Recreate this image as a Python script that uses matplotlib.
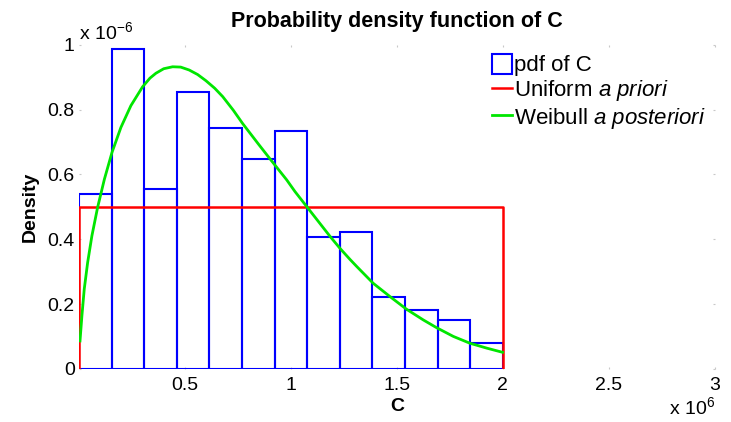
import numpy as np
import matplotlib
matplotlib.use("Agg")
import matplotlib.pyplot as plt
from matplotlib.patches import Patch
from matplotlib.lines import Line2D

# C is in units of 1e6, densities in units of 1e-6
n_bins = 13
c_min, c_max = 0.0, 2.0
pdf_heights = [0.54, 0.988, 0.556, 0.855, 0.744, 0.648, 0.735,
               0.406, 0.423, 0.222, 0.182, 0.150, 0.079]

# uniform prior on [0, 2e6]
uniform_c = [0.0, 0.0, 2.0, 2.0]
uniform_pdf = [0.0, 0.5, 0.5, 0.0]

# fitted Weibull posterior
weibull_c = [0.005, 0.014, 0.025, 0.041, 0.061, 0.088, 0.120, 0.156, 0.198,
             0.245, 0.300, 0.335, 0.363, 0.400, 0.442, 0.480, 0.520, 0.560,
             0.599, 0.640, 0.678, 0.728, 0.772, 0.846, 0.901, 0.980, 1.019,
             1.074, 1.129, 1.184, 1.231, 1.278, 1.310, 1.388, 1.467, 1.545,
             1.624, 1.687, 1.766, 1.844, 1.923, 1.998]
weibull_pdf = [0.086, 0.164, 0.246, 0.328, 0.410, 0.498, 0.585, 0.668, 0.745,
               0.812, 0.870, 0.897, 0.912, 0.926, 0.932, 0.931, 0.922, 0.908,
               0.889, 0.866, 0.840, 0.798, 0.757, 0.694, 0.648, 0.583, 0.547,
               0.501, 0.455, 0.409, 0.372, 0.338, 0.316, 0.264, 0.223, 0.184,
               0.151, 0.127, 0.100, 0.079, 0.064, 0.051]

xticks = [0.5, 1, 1.5, 2, 2.5, 3]
xticklabels = ["0.5", "1", "1.5", "2", "2.5", "3"]
yticks = [0, 0.2, 0.4, 0.6, 0.8, 1]
yticklabels = ["0", "0.2", "0.4", "0.6", "0.8", "1"]

plt.rcParams["font.family"] = ["Liberation Sans", "DejaVu Sans"]
plt.rcParams["mathtext.fontset"] = "custom"
plt.rcParams["mathtext.rm"] = "Liberation Sans"
plt.rcParams["mathtext.it"] = "Liberation Sans:italic"

fig = plt.figure(figsize=(7.31, 4.22), dpi=100)
ax = fig.add_axes([0.108, 0.126, 0.870, 0.768])

edges = np.linspace(c_min, c_max, n_bins + 1)
width = edges[1] - edges[0]
ax.bar(edges[:-1], pdf_heights, width=width, align="edge", fill=False,
       edgecolor="#0000ff", linewidth=1.5, zorder=2)
ax.plot(uniform_c, uniform_pdf, color="#ff0000", linewidth=1.8, zorder=3)
ax.plot(weibull_c, weibull_pdf, color="#00e600", linewidth=2,
        solid_joinstyle="round", zorder=4)

ax.set_xlim(0, 3)
ax.set_ylim(0, 1)
ax.set_xticks(xticks)
ax.set_xticklabels(xticklabels)
ax.set_yticks(yticks)
ax.set_yticklabels(yticklabels)
ax.tick_params(labelsize=14, length=1.5, color="#c8c8c8", direction="in",
               top=True, right=True)
ax.tick_params(axis="y", pad=3)
ax.tick_params(axis="x", pad=6)
for s in ax.spines.values():
    s.set_visible(False)

ax.set_title("Probability density function of C", fontsize=15.5,
             fontweight="bold", pad=13)
ax.set_xlabel("C", fontsize=14, fontweight="bold", labelpad=3)
ax.set_ylabel("Density", fontsize=14, fontweight="bold", labelpad=6)

ax.text(0.0, 1.005, r"x 10$^{-6}$", transform=ax.transAxes, fontsize=14,
        ha="left", va="bottom")
ax.text(1.0, -0.085, r"x 10$^{6}$", transform=ax.transAxes, fontsize=14,
        ha="right", va="top")

handles = [Patch(facecolor="white", edgecolor="#0000ff", linewidth=1.5),
           Line2D([], [], color="#ff0000", linewidth=1.8),
           Line2D([], [], color="#00e600", linewidth=2)]
labels = ["pdf of C", r"Uniform $\it{a\ priori}$",
          r"Weibull $\it{a\ posteriori}$"]
ax.legend(handles, labels, loc="upper right", frameon=False, fontsize=16,
          handlelength=0.9, handleheight=1.0, handletextpad=0.1,
          labelspacing=0.1, borderaxespad=0.2, borderpad=0.2)

fig.savefig("out.png", dpi=100)
